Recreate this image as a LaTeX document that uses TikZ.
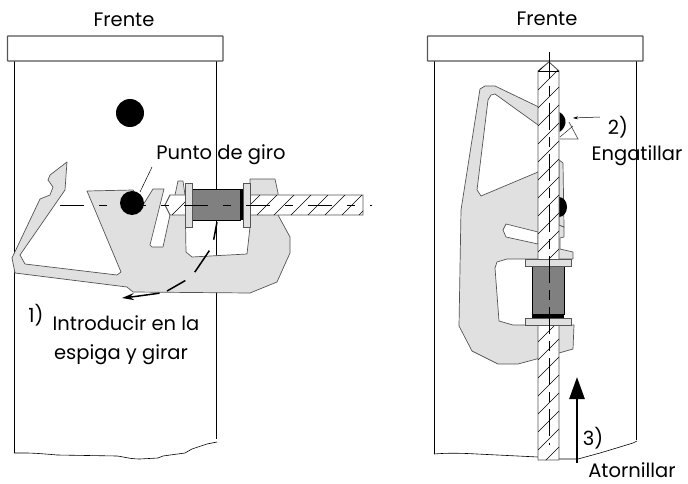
\documentclass[tikz,border=0pt]{standalone}
\usepackage{fontspec}
\setmainfont{Poppins}
\usetikzlibrary{positioning,arrows.meta}

\definecolor{clipgray}{HTML}{E0E0E0}
\definecolor{bushgray}{HTML}{808080}
\definecolor{edgegray}{HTML}{555555}

\tikzset{
  panel/.style={draw=black, line width=0.9pt},
  topbar/.style={draw=edgegray, line width=1.2pt, rounded corners=0.5pt, fill=white},
  clipbody/.style={draw=edgegray, line width=0.7pt, fill=clipgray, line join=round},
  washer/.style={draw=edgegray, line width=0.7pt, fill=clipgray},
  bush/.style={fill=bushgray},
  rodbody/.style={draw=edgegray, line width=0.9pt, fill=white},
  hatchline/.style={draw=black, line width=0.5pt},
  centerline/.style={draw=black, line width=0.6pt, dash pattern=on 24pt off 15pt on 8pt off 15pt},
  lbl/.style={font=\fontsize{19.5}{22}\selectfont, inner sep=0pt, text=black},
}

\begin{document}
\begin{tikzpicture}[x=1pt, y=-1pt, >=Stealth]
\useasboundingbox (0,0) rectangle (688,484);

% Left panel
\draw[panel] (14.5,61) -- (14.5,453);
\draw[panel] (216.5,61) -- (216.5,439);
\draw[line width=0.6pt] (14,453) .. controls (25,453) and (30,452.5) .. (57,455) -- (117,456) .. controls (125,457) and (130,459) .. (140,459) -- (158,458) -- (163,456) -- (185,453) -- (192,449) -- (207,444) -- (217,442);
\draw[topbar] (7.5,36) rectangle (223,61);
\node[lbl] (frenteL) at (124,20) {Frente};
\fill[black] (130,113) circle (14);

% Left clip
\draw[clipbody] (67,162) -- (50,175) -- (48,180) -- (53,187) -- (50,195) -- (40,199) -- (12,258) -- (15,273)
  -- (127,287) -- (133,292) -- (250,293) -- (277,282) -- (290,253) -- (290,237) -- (278,215) -- (278,193)
  -- (275,179) -- (250,179) -- (250,227) -- (247,254) -- (192,257) -- (186,252) -- (185,195) -- (183,181)
  -- (178,181) -- (175,195) -- (170,215) -- (163,247) -- (152,247) -- (150,245) -- (164,189) -- (153,189)
  -- (143,205) -- (133,190) -- (87,191) -- (121,272) -- (117,275) -- (25,264) -- (20,255) -- (65,190) -- cycle;
\fill[black] (132,203) circle (12);

% Left rod
\draw[rodbody] (170,195) -- (165,205) -- (170,215) -- (363,215) -- (363,195) -- cycle;
\begin{scope}
  \clip (165,205) -- (170,195) -- (363,195) -- (363,215) -- (170,215) -- cycle;
  \foreach \hx in {172,189,...,376} {
    \draw[hatchline] (\hx,215) -- ++(20,-20);
  }
\end{scope}
\draw[bush] (192,189) rectangle (240,220);
\fill[black] (240,189) rectangle (243,220);
\draw[washer] (185,183) rectangle (192,227);
\draw[washer] (243,183) rectangle (250,227);
\draw[centerline] (60,205) -- (372,205);

% Left labels
\node[lbl] (giro) at (221,155) {Punto de giro};
\coordinate (giroend) at (140,192);
\draw[line width=0.5pt] (152,167) -- (giroend);
\draw[line width=1.5pt, dash pattern=on 18pt off 12pt on 26pt off 13pt on 21pt off 8pt on 60pt] (217,222) -- (212.5,246) -- (191.5,277) -- (164.5,292.5) -- (135,296.5);
\coordinate (swingstart) at (135,296.5);
\coordinate (swingend) at (122,298);
\draw[-{Stealth[length=12pt,width=7pt]}, line width=1.5pt] (swingstart) -- (swingend);
\node[lbl] (stepa) at (36,315) {1)};
\node[lbl] (intro) at (126,323) {Introducir en la};
\node[lbl] (espiga) at (121,355) {espiga y girar};

% Right panel
\draw[panel] (434.5,61) -- (434.5,454);
\draw[panel] (636.5,61) -- (636.5,440);
\draw[line width=0.6pt] (434,454) .. controls (445,453) and (460,453) .. (477,454) -- (538,457) -- (559,459) -- (578,459) -- (600,453) -- (610,450) -- (633,443) -- (637,441);
\draw[topbar] (427.5,36) rectangle (643,61);
\node[lbl] (frenteR) at (547,19) {Frente};

% Right clip
\draw[clipbody] (545,110) -- (495,86) -- (485,86) -- (480,89) -- (461,210) -- (459,326) -- (472,351) -- (498,364)
  -- (518,364) -- (559,353) -- (573,349) -- (574,325) -- (513,325) -- (499,321) -- (495,268) -- (497,262)
  -- (507,259) -- (573,259) -- (573,252) -- (560,249) -- (560,238) -- (564,237) -- (564,227) -- (559,225)
  -- (559,160) -- (545,160) -- (538,172) -- (481,196) -- (477,190) -- (488,100) -- (491,95) -- (495,94) -- (545,130) -- cycle;
\draw[clipbody] (559,160) -- (563,163) -- (564,227) -- (559,225) -- cycle;
\draw[clipbody, fill=white] (538,232) -- (506,224) -- (503,230) -- (506,237) -- (538,244) -- cycle;
\fill[black] (559,207) ellipse (8 and 10);

% Right rod
\draw[rodbody] (538,71) -- (549,62) -- (559,71) -- (559,460) -- (538,460) -- cycle;
\begin{scope}
  \clip (538,71) -- (549,62) -- (559,71) -- (559,460) -- (538,460) -- cycle;
  \foreach \hy in {72,90,...,480} {
    \draw[hatchline] (538,\hy) -- ++(21,-21);
  }
\end{scope}
\draw[line width=0.5pt] (538,71) -- (559,71);
\draw[bush] (532,266) rectangle (564,314);
\fill[black] (532,314) rectangle (564,318);
\draw[washer] (525,259) rectangle (571,266);
\draw[washer] (525,318) rectangle (571,325);
\draw[centerline, dash pattern=on 27pt off 7pt on 10pt off 7pt] (549,52) -- (549,445);

% Catch and arrows
\draw[draw=edgegray, line width=0.7pt, fill=white] (560,139) -- (578,139) -- (569,122);
\draw[line width=0.4pt] (560,137) -- (573,126);
\fill[black] (559.5,112) .. controls (569,118) and (566,128) .. (559.5,132) -- cycle;
\coordinate (catchend) at (573,118);
\coordinate (catchstart) at (600,117);
\draw[->, line width=0.5pt, >={Stealth[length=5pt,width=3pt]}] (catchstart) -- (catchend);
\node[lbl] (stepb) at (618,127) {2)};
\node[lbl] (gatillo) at (637,156) {Engatillar};

\coordinate (pushstart) at (577,463);
\coordinate (pushend) at (577,377);
\draw[-{Triangle[length=22pt,width=15pt]}, line width=2.6pt] (pushstart) -- (pushend);
\node[lbl] (stepc) at (593,438) {3)};
\node[lbl] (atorn) at (632,470) {Atornillar};

\end{tikzpicture}
\end{document}
